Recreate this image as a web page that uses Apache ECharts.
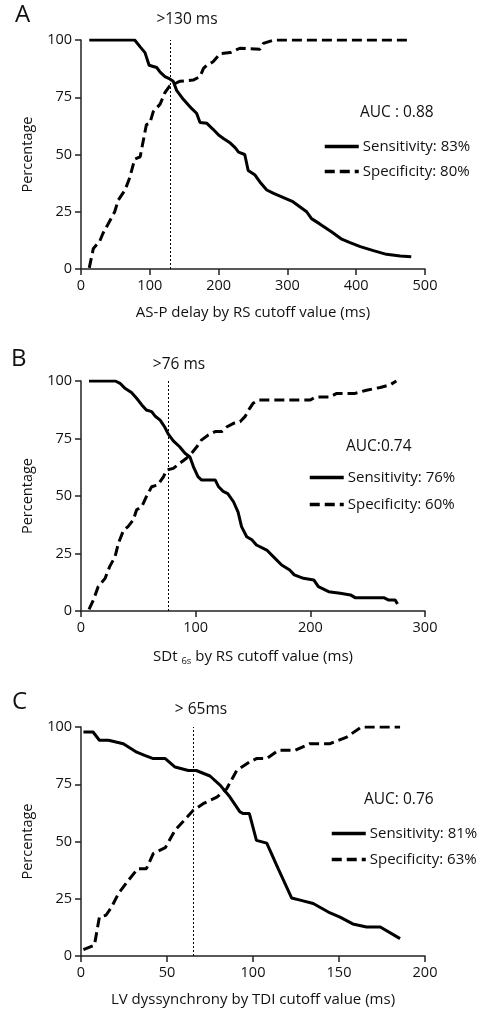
<!DOCTYPE html>
<html>
<head>
<meta charset="utf-8">
<script src="https://cdn.jsdelivr.net/npm/echarts@6/dist/echarts.min.js"></script>
<style>
  html, body { margin: 0; padding: 0; background: #fff; }
  #chart { width: 481px; height: 1011px; }
</style>
</head>
<body>
<div id="chart"></div>
<script>
// panel A: AS-P delay by RS
const sensA = [[12, 100], [78, 100], [86, 97], [93, 94.5], [99, 89], [110, 88], [115, 86], [122, 84], [129, 83],
  [134, 82], [139, 78], [149, 74], [161, 70], [168, 68], [173, 64], [183, 63.6], [192, 61], [200, 58.5], [207, 57],
  [217, 55], [224, 53], [229, 51], [238, 50], [243, 43], [253, 41], [260, 38], [270, 34.5], [280, 33], [296, 31],
  [308, 29.4], [321, 26.5], [328, 25], [335, 22], [347, 19.7], [364, 16.3], [379, 13], [391, 11.5], [406, 9.8],
  [425, 8], [444, 6.4], [464, 5.7], [480, 5.4]]
const specA = [[12, 0.5], [18, 9], [27, 12], [32, 15.6], [40, 20], [49, 25], [54, 30], [64, 34.5], [71, 40],
  [78, 48], [86, 49], [95, 63], [100, 63.6], [105, 68.7], [115, 72], [122, 77], [129, 80], [137, 81], [144, 82],
  [163, 82.5], [173, 84], [178, 87.6], [183, 89], [192, 90.5], [202, 94], [217, 94.5], [231, 96.4], [260, 96],
  [265, 98.5], [280, 100], [480, 100]]

// panel B: SDt6s by RS
const sensB = [[7, 100], [30, 100], [34, 99], [38, 97], [44, 95], [48.5, 92.5], [53, 89.6], [57, 87.4], [61.6, 86.7],
  [64.5, 84.8], [69, 83], [73, 80], [76, 77], [80.5, 74], [86, 71.4], [90.7, 68.6], [95, 67], [98, 62.8], [102, 58.4],
  [105, 57], [117, 57], [120, 54], [124, 52], [128, 51], [133, 47.5], [137, 43], [140, 36.7], [144.5, 32.3], [149, 31],
  [153, 28.7], [162, 26.5], [169, 23], [175, 20], [182, 17.8], [186, 15.7], [194, 14.2], [203, 13.5], [207, 10.6],
  [216, 8.4], [226, 7.7], [235, 7], [239, 5.8], [264, 5.8], [268, 4.8], [274, 4.8], [276, 3]]
const specB = [[7, 0.7], [10.8, 4.8], [15, 10.6], [21, 14.2], [25, 19.3], [29.7, 23.6], [32.6, 29.4], [37, 35],
  [41, 36.7], [45.6, 39.6], [48.5, 44], [53, 45.4], [57, 49.7], [61.6, 54], [67, 54.8], [72, 58.4], [74.7, 61.3],
  [80.5, 62], [86, 64.2], [92, 66.4], [96.5, 68.6], [101, 71.4], [105, 74.3], [111, 76.5], [117, 78], [122.7, 78],
  [127, 80], [133, 81.6], [138.7, 82.3], [143, 84.5], [147, 88], [150, 90.3], [154.7, 91.7], [200, 91.7], [204, 93],
  [217, 93], [223, 94.6], [239, 94.6], [249, 96], [261, 97.2], [269.5, 98.3], [275, 100]]

// panel C: LV dyssynchrony by TDI
const sensC = [[1.4, 97.8], [7, 97.8], [10.7, 94.2], [16, 94.2], [24.6, 92.7], [32.4, 89], [37, 87.6], [42, 86.2],
  [49, 86.2], [54.7, 82.5], [62.4, 81], [67, 81], [75, 78.6], [81, 74.5], [86.6, 69.4], [92.4, 62.9], [94.4, 62.2],
  [97.9, 62.2], [102, 50.5], [108, 49.3], [114.7, 38], [122.5, 25.3], [128, 24.3], [135, 22.9], [143.8, 19.2],
  [150.6, 17], [158, 14], [166, 12.7], [174, 12.7], [185.5, 7.6]]
const specC = [[1.4, 2.8], [7.8, 4.7], [10.7, 17], [14.5, 17.8], [17.8, 21.4], [21.7, 27.2], [27.5, 33], [33, 38.1],
  [38, 38.1], [42, 44.7], [49, 47.3], [54.7, 54.9], [65.3, 63.6], [71, 66.5], [79, 69.4], [84.7, 73], [90.5, 81],
  [98, 84.7], [102, 86.2], [108, 86.2], [114.7, 89.8], [124.4, 89.8], [133, 92.7], [144.8, 92.7], [154.5, 95.6],
  [163, 100], [185.5, 100]]

const cutoffs = [130, 76, 65]
const xMax = [500, 300, 200]
const xStep = [100, 100, 50]
const xNames = ['AS-P delay by RS cutoff value (ms)', 'SDt {sub|6s} by RS cutoff value (ms)', 'LV dyssynchrony by TDI cutoff value (ms)']
const sensNames = ['Sensitivity: 83%', 'Sensitivity: 76%', 'Sensitivity: 81%']
const specNames = ['Specificity: 80%', 'Specificity: 60%', 'Specificity: 63%']
const aucTexts = ['AUC : 0.88', 'AUC:0.74', 'AUC: 0.76']
const panelLetters = ['A', 'B', 'C']
const cutoffTexts = ['>130 ms', '>76 ms', '> 65ms']

const FONT = '"Open Sans", "Noto Sans", sans-serif'
const INK = '#111'

const gridTops = [40, 381, 727]
const gridHeights = [229, 230, 229]

// layout of legend / labels per panel
const legendPos = [
  { left: 318, top: 134, gap: 10 },
  { left: 303, top: 465, gap: 12 },
  { left: 325, top: 821, gap: 11 }
]
const aucPos = [[360, 113], [346, 447], [364, 800]]
const letterPos = [[15, 16], [11, 360], [12, 703]]
const cutoffPos = [[187, 20], [179, 365], [201, 710]]

const axisLine = { show: true, lineStyle: { color: '#222', width: 1.5 } }
const axisTick = { show: true, length: 6, lineStyle: { color: '#222', width: 1.5 } }

const grid = gridTops.map((t, i) => ({ left: 81, width: 344, top: t, height: gridHeights[i] }))

const xAxis = xMax.map((m, i) => ({
  type: 'value',
  gridIndex: i,
  min: 0,
  max: m,
  interval: xStep[i],
  name: xNames[i],
  nameLocation: 'middle',
  nameGap: 36,
  nameTextStyle: {
    color: INK, fontFamily: FONT, fontSize: 15,
    rich: { sub: { fontSize: 9.5, verticalAlign: 'bottom', padding: [9, 0, 0, 0], color: INK, fontFamily: FONT } }
  },
  axisLine: axisLine,
  axisTick: axisTick,
  splitLine: { show: false },
  axisLabel: { color: INK, fontFamily: FONT, fontSize: 14.5, margin: 9 }
}))

const yAxis = gridTops.map((t, i) => ({
  type: 'value',
  gridIndex: i,
  min: 0,
  max: 100,
  interval: 25,
  name: 'Percentage',
  nameLocation: 'middle',
  nameGap: 46,
  nameTextStyle: { color: INK, fontFamily: FONT, fontSize: 14.5 },
  axisLine: axisLine,
  axisTick: axisTick,
  splitLine: { show: false },
  axisLabel: { color: INK, fontFamily: FONT, fontSize: 14.5, margin: 9 }
}))

const sensData = [sensA, sensB, sensC]
const specData = [specA, specB, specC]

const series = []
for (let i = 0; i < 3; i++) {
  series.push({
    name: sensNames[i],
    type: 'line',
    xAxisIndex: i,
    yAxisIndex: i,
    data: sensData[i],
    symbol: 'none',
    lineStyle: { color: '#000', width: 3 },
    itemStyle: { color: '#000' },
    z: 3,
    markLine: {
      silent: true,
      symbol: 'none',
      label: { show: false },
      lineStyle: { color: '#000', width: 1, type: [2, 2] },
      data: [[{ coord: [cutoffs[i], 0] }, { coord: [cutoffs[i], 100] }]]
    }
  })
  series.push({
    name: specNames[i],
    type: 'line',
    xAxisIndex: i,
    yAxisIndex: i,
    data: specData[i],
    symbol: 'none',
    lineStyle: { color: '#000', width: 3, type: [10, 5] },
    itemStyle: { color: '#000' },
    z: 3
  })
}

const legend = legendPos.map((p, i) => ({
  orient: 'vertical',
  left: p.left,
  top: p.top,
  itemWidth: 34,
  itemHeight: 14,
  itemGap: p.gap,
  data: [sensNames[i], specNames[i]],
  selectedMode: false,
  itemStyle: { opacity: 0 },
  lineStyle: { width: 3.5 },
  textStyle: { color: INK, fontFamily: FONT, fontSize: 15, padding: [0, 0, 0, -1] }
}))

const graphic = []
for (let i = 0; i < 3; i++) {
  graphic.push({
    type: 'text', left: letterPos[i][0], top: letterPos[i][1] - 13,
    style: { text: panelLetters[i], fill: INK, font: '24px ' + FONT }
  })
  graphic.push({
    type: 'text', x: cutoffPos[i][0], y: cutoffPos[i][1],
    style: { text: cutoffTexts[i], fill: INK, font: '15.5px ' + FONT, align: 'center', verticalAlign: 'middle' }
  })
  graphic.push({
    type: 'text', x: aucPos[i][0], y: aucPos[i][1],
    style: { text: aucTexts[i], fill: INK, font: '15.5px ' + FONT, verticalAlign: 'middle' }
  })
}

const chart = echarts.init(document.getElementById('chart'), null, { renderer: 'canvas' })
chart.setOption({
  backgroundColor: '#fff',
  animation: false,
  grid: grid,
  xAxis: xAxis,
  yAxis: yAxis,
  legend: legend,
  series: series,
  graphic: graphic
})
</script>
</body>
</html>
